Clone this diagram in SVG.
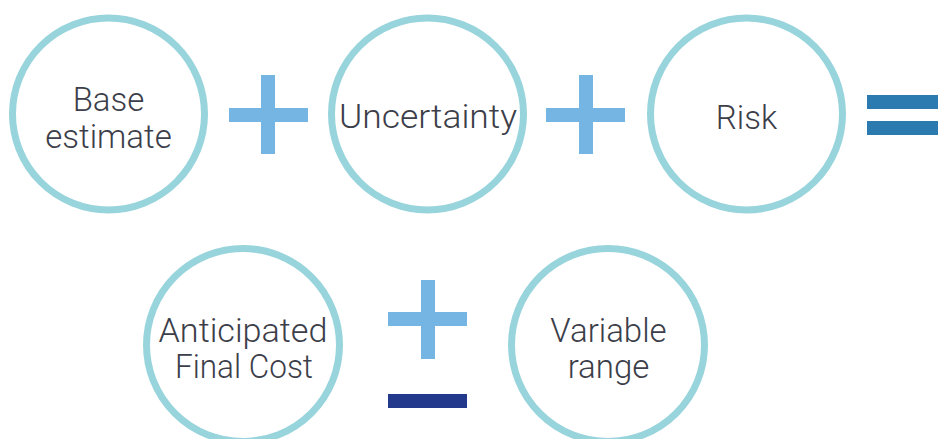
<svg xmlns="http://www.w3.org/2000/svg" width="938" height="439" viewBox="0 0 938 439">
<style>
.node circle{fill:#fff;stroke:#98d4dc;stroke-width:7}
.node text{font-family:Roboto,"Liberation Sans",sans-serif;font-size:33px;font-weight:300;fill:#3c3e49;text-anchor:middle}
.plus{fill:#75b5e3}
.eq{fill:#2b7bb0}
.minus{fill:#23398c}
</style>
<rect width="938" height="439" fill="#fff"/>
<g id="base" class="node"><circle cx="108.5" cy="114" r="96"/>
<text x="108.5" y="111">Base</text><text x="108.5" y="148">estimate</text></g>
<g id="uncertainty" class="node"><circle cx="427.5" cy="114" r="96"/>
<text x="428" y="128" textLength="178" lengthAdjust="spacingAndGlyphs">Uncertainty</text></g>
<g id="risk" class="node"><circle cx="746.5" cy="114" r="96"/>
<text x="746.5" y="129">Risk</text></g>
<g id="afc" class="node"><circle cx="243" cy="345" r="96.5"/>
<text x="243" y="342" textLength="169" lengthAdjust="spacingAndGlyphs">Anticipated</text><text x="244" y="378" textLength="138" lengthAdjust="spacingAndGlyphs">Final Cost</text></g>
<g id="variable" class="node"><circle cx="608" cy="345" r="96.5"/>
<text x="608.5" y="342">Variable</text><text x="608.5" y="378">range</text></g>
<g id="operators">
<rect class="plus" x="229" y="108" width="79" height="14"/><rect class="plus" x="261" y="75" width="14" height="79"/>
<rect class="plus" x="546" y="108" width="79" height="14"/><rect class="plus" x="579" y="75" width="14" height="79"/>
<rect class="eq" x="867" y="95" width="71" height="14"/><rect class="eq" x="867" y="121" width="71" height="14"/>
<rect class="plus" x="388" y="312" width="79" height="14"/><rect class="plus" x="421" y="280" width="14" height="79"/>
<rect class="minus" x="388" y="394" width="79" height="14"/>
</g>
</svg>
